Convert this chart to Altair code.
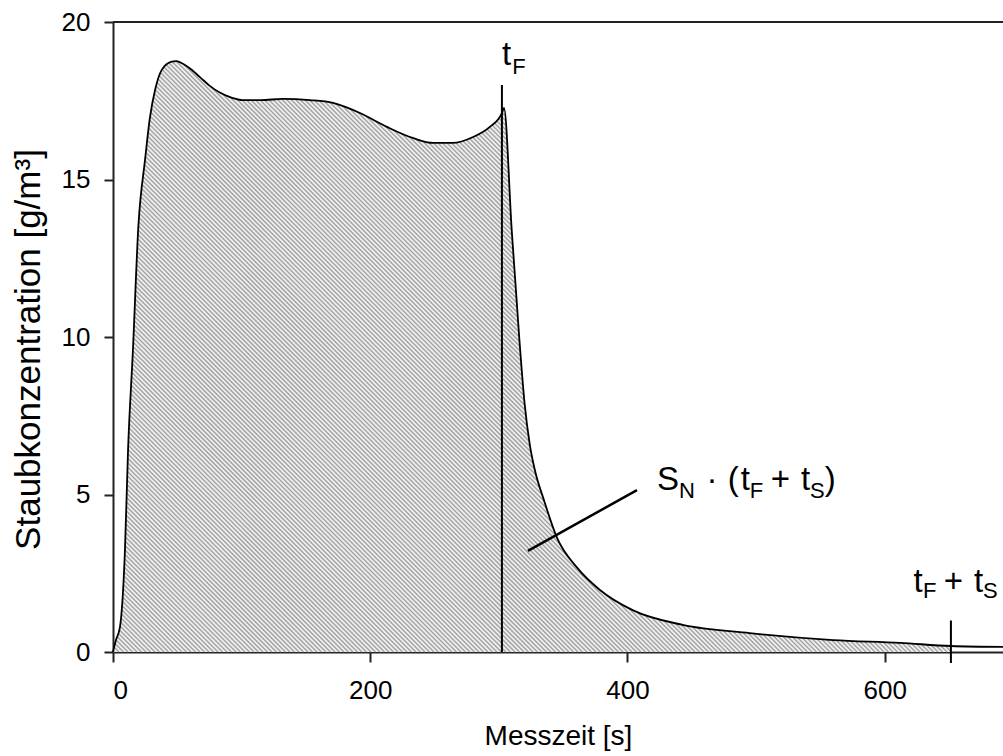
import altair as alt
import numpy as np
import pandas as pd

# Curve: Staubkonzentration over Messzeit
t_vals = [0, 2.3, 5.4, 9.3, 11.7, 15.5, 19.7, 24.9, 28.8, 32.7, 37.9, 45.6, 49, 58.3,
          67.6, 75, 83, 92, 101, 115, 132, 153, 171, 192, 213, 233, 249, 264, 280, 293,
          302.4, 304, 310, 316, 320, 324, 328, 335, 345, 361, 378.6, 404, 443, 495, 560, 612,
          651.5, 692]
c_vals = [0, 0.38, 0.79, 3.24, 6.41, 9.59, 13.5, 15.62, 16.99, 17.84, 18.48, 18.74, 18.76, 18.57,
          18.25, 17.98, 17.76, 17.6, 17.52, 17.52, 17.56, 17.52, 17.43, 17.11, 16.67, 16.32, 16.16,
          16.16, 16.35, 16.67, 17.11, 17.27, 13.4, 9.9, 7.9, 6.6, 5.78, 4.83, 3.65, 2.67, 1.97,
          1.33, 0.86, 0.60, 0.38, 0.29, 0.19, 0.16]

t_F = 302.4
t_FS = 651.5
x_ticks = [0, 200, 400, 600]
y_ticks = [0, 5, 10, 15, 20]

# annotation text pieces
txt_text = ["t", "F",
            "t", "F", "+", "t", "S",
            "S", "N", "·", "(", "t", "F", "+", "t", "S", ")"]
txt_x = [302.5, 310.5,
         622.5, 629.8, 646.0, 669.5, 676.5,
         423.0, 440.0, 461.5, 478.0, 488.0, 495.0, 511.5, 535.0, 542.0, 553.5]
txt_y = [18.63, 18.35,
         1.905, 1.70, 1.905, 1.905, 1.70,
         5.14, 4.90, 5.14, 5.14, 5.14, 4.90, 5.14, 5.14, 4.90, 5.14]
txt_size = [33, 22,
            33, 22, 33, 33, 22,
            33, 22, 33, 33, 33, 22, 33, 33, 22, 33]

# leader line
lead_x = [322.6, 407.4]
lead_y = [3.21, 5.14]

FONT = "Liberation Sans"
PLOT_W, PLOT_H = 890, 630
X_MAX = 692
Y_MAX = 20

curve = pd.DataFrame({"t": t_vals, "c": c_vals})
texts = pd.DataFrame({"txt": txt_text, "x": txt_x, "y": txt_y, "s": txt_size})

# ---- hatch texture (decoration): 45-degree lines clipped to the filled region ----
kx = PLOT_W / X_MAX
ky = PLOT_H / Y_MAX
U = np.array(t_vals) * kx
V = np.array(c_vals) * ky
n = len(U)


def sgn(a):
    return -1.0 if a < 0 else 1.0


tan = np.zeros(n)
for i in range(1, n - 1):
    h0, h1 = U[i] - U[i - 1], U[i + 1] - U[i]
    s0, s1 = (V[i] - V[i - 1]) / h0, (V[i + 1] - V[i]) / h1
    p = (s0 * h1 + s1 * h0) / (h0 + h1)
    tan[i] = (sgn(s0) + sgn(s1)) * min(abs(s0), abs(s1), 0.5 * abs(p))
tan[0] = (3 * (V[1] - V[0]) / (U[1] - U[0]) - tan[1]) / 2
tan[-1] = (3 * (V[-1] - V[-2]) / (U[-1] - U[-2]) - tan[-2]) / 2

su, sv = [], []
ss = np.linspace(0, 1, 41)[:-1]
for i in range(n - 1):
    x0, x1, y0, y1 = U[i], U[i + 1], V[i], V[i + 1]
    dx = (x1 - x0) / 3
    p1, p2 = y0 + dx * tan[i], y1 - dx * tan[i + 1]
    b = (1 - ss) ** 3 * y0 + 3 * (1 - ss) ** 2 * ss * p1 + 3 * (1 - ss) * ss ** 2 * p2 + ss ** 3 * y1
    su.extend(x0 + ss * (x1 - x0))
    sv.extend(b)
su.append(U[-1])
sv.append(V[-1])
su, sv = np.array(su), np.array(sv)

u_end = t_FS * kx
ug = np.arange(0, u_end + 1e-9, 0.25)
vg = np.interp(ug, su, sv)
gsum = ug + vg
hx, hy, hx2, hy2 = [], [], [], []
for k in np.arange(1.5, u_end + vg.max() + 4.5, 4.5):
    mask = (gsum >= k) & (ug <= k)
    if not mask.any():
        continue
    edges = np.flatnonzero(np.diff(np.concatenate([[0], mask.astype(int), [0]])))
    for s_i, e_i in zip(edges[::2], edges[1::2] - 1):
        ua, ub = ug[s_i], ug[e_i]
        if ub - ua < 0.3:
            continue
        hx.append(ua / kx)
        hy.append((k - ua) / ky)
        hx2.append(ub / kx)
        hy2.append((k - ub) / ky)
hatch_df = pd.DataFrame({"x": hx, "y": hy, "x2": hx2, "y2": hy2})

# ---- chart ----
xscale = alt.Scale(domain=[0, X_MAX], nice=False, zero=False)
yscale = alt.Scale(domain=[0, Y_MAX], nice=False)

xaxis = alt.Axis(values=x_ticks, title="Messzeit [s]", grid=False, tickSize=10,
                 labelPadding=15, titlePadding=19, labelFontSize=26, titleFontSize=28)
yaxis = alt.Axis(values=y_ticks, title="Staubkonzentration [g/m³]", grid=False, tickSize=9,
                 labelPadding=14, titlePadding=15, labelFontSize=26, titleFontSize=35,
                 titleY=327)

base = alt.Chart(curve)

area = base.mark_area(color="#eeeeee", interpolate="monotone").encode(
    x=alt.X("t:Q", scale=xscale, axis=xaxis),
    y=alt.Y("c:Q", scale=yscale, axis=yaxis),
).transform_filter(alt.datum.t <= t_FS)

hatch = alt.Chart(hatch_df).mark_rule(color="#a0a0a0", strokeWidth=1.3).encode(
    x=alt.X("x:Q", scale=xscale), y=alt.Y("y:Q", scale=yscale),
    x2="x2:Q", y2="y2:Q",
)

line = base.mark_line(color="black", strokeWidth=1.8, interpolate="monotone").encode(
    x=alt.X("t:Q", scale=xscale),
    y=alt.Y("c:Q", scale=yscale),
)

one = pd.DataFrame({"k": [0]})

top_rule = alt.Chart(one).mark_rule(color="#222", strokeWidth=2).encode(
    x=alt.datum(0), x2=alt.datum(X_MAX), y=alt.datum(Y_MAX)
)

tf_rule = alt.Chart(one).mark_rule(color="black", strokeWidth=2).encode(
    x=alt.datum(t_F), y=alt.datum(0), y2=alt.datum(18)
)

tfs_rule = alt.Chart(one).mark_rule(color="black", strokeWidth=2).encode(
    x=alt.datum(t_FS), y=alt.datum(-0.35), y2=alt.datum(1.0)
)

lead = alt.Chart(one).mark_rule(color="black", strokeWidth=2.5).encode(
    x=alt.datum(lead_x[0]), y=alt.datum(lead_y[0]),
    x2=alt.datum(lead_x[1]), y2=alt.datum(lead_y[1])
)

labels = alt.Chart(texts).mark_text(align="left", baseline="alphabetic", font=FONT,
                                    color="black").encode(
    x=alt.X("x:Q", scale=xscale),
    y=alt.Y("y:Q", scale=yscale),
    text="txt:N",
    size=alt.Size("s:Q", scale=None, legend=None),
)

chart = alt.layer(area, hatch, line, top_rule, tf_rule, tfs_rule, lead, labels).properties(
    width=PLOT_W, height=PLOT_H,
    autosize=alt.AutoSizeParams(type="none"),
    padding={"left": 113, "top": 22, "right": 0, "bottom": 104},
    background="white",
).configure_view(stroke=None).configure_axis(
    domainColor="#222", domainWidth=2, tickColor="#222", tickWidth=2,
    labelColor="black", titleColor="black", labelFont=FONT, titleFont=FONT,
    titleFontWeight="normal",
)

chart.save("out.html", embed_options={"renderer": "svg", "actions": False})
